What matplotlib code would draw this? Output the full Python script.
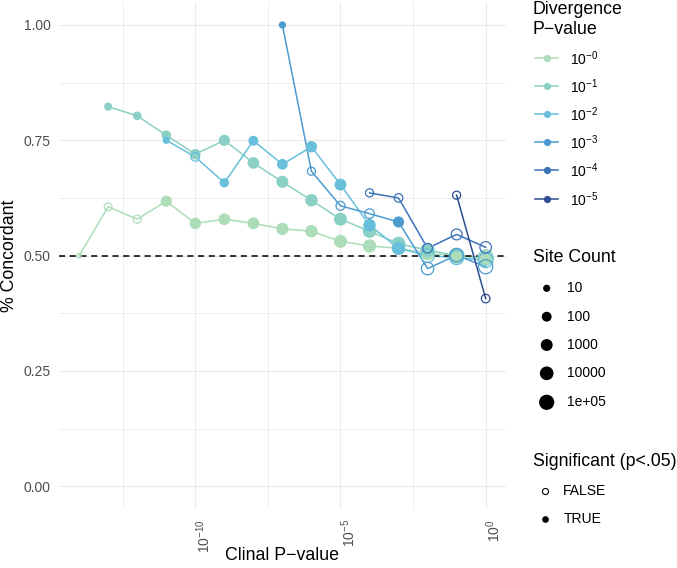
import numpy as np
import matplotlib
matplotlib.use("Agg")
import matplotlib.pyplot as plt
from matplotlib.ticker import FixedLocator, NullFormatter, LogFormatterMathtext
from matplotlib.transforms import ScaledTranslation

# ===================
# CONFIGURATION
# ===================
W, H, DPI = 677, 568, 100
PANEL = (58.8, 1.9, 506.0, 509.4)  # left, top, right, bottom in pixels
GRID_COLOR = '#ebebeb'
TEXT_GRAY = '#4d4d4d'
TICK_FS = 10
TITLE_FS = 12.8

plt.rcParams['font.family'] = ['Liberation Sans', 'DejaVu Sans']
plt.rcParams['mathtext.fontset'] = 'custom'
plt.rcParams['mathtext.rm'] = 'Liberation Sans'
plt.rcParams['mathtext.it'] = 'Liberation Sans:italic'
plt.rcParams['mathtext.bf'] = 'Liberation Sans:bold'

# ===================
# DATA
# ===================
# clinal p-value exponent (log10), % concordant, site count, significant
div_labels = ['$10^{-0}$', '$10^{-1}$', '$10^{-2}$', '$10^{-3}$', '$10^{-4}$', '$10^{-5}$']
div_colors = ['#acdcb8', '#8ad0c4', '#67bfdb', '#4c9bd0', '#3c72ba', '#2c4d8e']

d0_exp = [-14, -13, -12, -11, -10, -9, -8, -7, -6, -5, -4, -3, -2, -1, 0]
d0_conc = [0.500, 0.606, 0.579, 0.618, 0.570, 0.579, 0.570, 0.558, 0.553, 0.531, 0.521, 0.516, 0.505, 0.500, 0.495]
d0_count = [2, 15, 20, 400, 600, 800, 1000, 1500, 2000, 4000, 6000, 12000, 25000, 50000, 100000]
d0_sig = [False, False, False, True, True, True, True, True, True, True, True, True, True, True, True]

d1_exp = [-13, -12, -11, -10, -9, -8, -7, -6, -5, -4, -3, -2, -1, 0]
d1_conc = [0.823, 0.803, 0.761, 0.720, 0.750, 0.701, 0.660, 0.620, 0.579, 0.553, 0.526, 0.512, 0.500, 0.496]
d1_count = [20, 30, 80, 200, 400, 700, 1200, 2000, 4000, 8000, 15000, 30000, 50000, 80000]
d1_sig = [True, True, True, True, True, True, True, True, True, True, True, True, False, False]

d2_exp = [-11, -10, -9, -8, -7, -6, -5, -4, -3, -2, -1, 0]
d2_conc = [0.750, 0.714, 0.658, 0.749, 0.698, 0.736, 0.654, 0.566, 0.516, 0.500, 0.496, 0.490]
d2_count = [10, 30, 60, 120, 250, 500, 1000, 2000, 5000, 10000, 20000, 40000]
d2_sig = [True, False, True, True, True, True, True, True, True, False, False, False]

d3_exp = [-7, -6, -5, -4, -3, -2, -1, 0]
d3_conc = [1.000, 0.683, 0.608, 0.591, 0.573, 0.472, 0.501, 0.476]
d3_count = [10, 20, 40, 80, 400, 2000, 6000, 20000]
d3_sig = [True, False, False, False, True, False, False, False]

d4_exp = [-4, -3, -2, -1, 0]
d4_conc = [0.636, 0.625, 0.516, 0.546, 0.518]
d4_count = [20, 30, 80, 300, 600]
d4_sig = [False, False, False, False, False]

d5_exp = [-1, 0]
d5_conc = [0.631, 0.407]
d5_count = [20, 30]
d5_sig = [False, False]

series = [
    (d0_exp, d0_conc, d0_count, d0_sig),
    (d1_exp, d1_conc, d1_count, d1_sig),
    (d2_exp, d2_conc, d2_count, d2_sig),
    (d3_exp, d3_conc, d3_count, d3_sig),
    (d4_exp, d4_conc, d4_count, d4_sig),
    (d5_exp, d5_conc, d5_count, d5_sig),
]

size_breaks = [10, 100, 1000, 10000, 100000]
size_labels = ['10', '100', '1000', '10000', '1e+05']


# ===================
# HELPERS
# ===================
def count_to_s(count):
    # area grows with log10(count), diameter in px -> points^2
    lg = np.log10(np.asarray(count, dtype=float))
    d_px = np.sqrt(np.clip(52 + 45 * (lg - 1), 14, None))
    return (d_px * 72 / DPI) ** 2


def px_ax(fig):
    ax = fig.add_axes([0, 0, 1, 1], zorder=5)
    ax.set_xlim(0, W)
    ax.set_ylim(H, 0)
    ax.axis('off')
    ax.patch.set_alpha(0)
    return ax


# ===================
# PLOTTING
# ===================
def make_figure():
    fig = plt.figure(figsize=(W / DPI, H / DPI), dpi=DPI)
    l, t, r, b = PANEL
    ax = fig.add_axes([l / W, (H - b) / H, (r - l) / W, (b - t) / H])
    ax.set_facecolor('white')
    for sp in ax.spines.values():
        sp.set_visible(False)

    ax.set_xscale('log')
    ax.set_xlim(10 ** -14.7, 10 ** 0.7)
    ax.set_ylim(-0.05, 1.05)
    ax.xaxis.set_major_locator(FixedLocator([1e-10, 1e-5, 1e0]))
    ax.xaxis.set_major_formatter(LogFormatterMathtext())
    ax.xaxis.set_minor_locator(FixedLocator([10 ** -12.5, 10 ** -7.5, 10 ** -2.5]))
    ax.xaxis.set_minor_formatter(NullFormatter())
    ax.set_yticks([0, 0.25, 0.5, 0.75, 1.0])
    ax.set_yticklabels(['0.00', '0.25', '0.50', '0.75', '1.00'])
    ax.set_yticks([0.125, 0.375, 0.625, 0.875], minor=True)

    ax.tick_params(which='both', length=0)
    ax.tick_params(axis='y', labelsize=TICK_FS, labelcolor=TEXT_GRAY, pad=6)
    ax.tick_params(axis='x', labelsize=TICK_FS, labelcolor=TEXT_GRAY, pad=7, labelrotation=90)
    ax.grid(which='major', color=GRID_COLOR, lw=0.8)
    ax.grid(which='minor', color=GRID_COLOR, lw=0.6)
    ax.set_axisbelow(True)

    shift = ScaledTranslation(8 / DPI, 0, fig.dpi_scale_trans)
    for lab in ax.get_xticklabels():
        lab.set_transform(lab.get_transform() + shift)

    # lines first, then points (as ggplot layers)
    for (ex, conc, cnt, sig), col in zip(series, div_colors):
        ax.plot(10.0 ** np.array(ex), conc, color=col, lw=1.1, zorder=2)

    ax.axhline(0.5, color='black', lw=1.1, ls=(0, (4, 3)), zorder=2.5)

    for (ex, conc, cnt, sig), col in zip(series, div_colors):
        x = 10.0 ** np.array(ex)
        y = np.array(conc)
        s = count_to_s(cnt)
        sig = np.array(sig)
        ax.scatter(x[sig], y[sig], s=s[sig], color=col, edgecolors='none', zorder=3)
        ax.scatter(x[~sig], y[~sig], s=s[~sig], facecolors='none', edgecolors=col,
                   linewidths=0.9, zorder=3)

    # axis titles
    fig.text(((l + r) / 2) / W, 1 - 556 / H, 'Clinal P\u2212value', ha='center', va='center', fontsize=TITLE_FS)
    fig.text(10 / W, 1 - ((t + b) / 2) / H, '% Concordant', ha='center', va='center',
             rotation=90, fontsize=TITLE_FS)

    # ===================
    # LEGENDS
    # ===================
    lg = px_ax(fig)
    lg.text(533, 9, 'Divergence', ha='left', va='center', fontsize=TITLE_FS)
    lg.text(533, 29, 'P\u2212value', ha='left', va='center', fontsize=TITLE_FS)
    ys = [57.7, 85.7, 113.7, 141.7, 170, 199]
    for yy, col, lab in zip(ys, div_colors, div_labels):
        lg.plot([535, 558], [yy, yy], color=col, lw=1.1)
        lg.plot([546.5], [yy], 'o', color=col, ms=5.2, mec='none')
        lg.text(570, yy + 1, lab, ha='left', va='center', fontsize=TICK_FS)

    lg.text(533, 258, 'Site Count', ha='left', va='center', fontsize=TITLE_FS)
    ys = [288.3, 316.7, 345, 373.3, 402.3]
    for yy, cnt, lab in zip(ys, size_breaks, size_labels):
        lg.scatter([546.7], [yy], s=count_to_s(cnt), color='black', edgecolors='none')
        lg.text(566.7, yy, lab, ha='left', va='center', fontsize=TICK_FS)

    lg.text(533, 461.7, 'Significant (p<.05)', ha='left', va='center', fontsize=TITLE_FS)
    lg.plot([545], [490.7], 'o', mfc='none', mec='black', ms=4.4, mew=0.8)
    lg.text(563.3, 490.7, 'FALSE', ha='left', va='center', fontsize=TICK_FS)
    lg.plot([545], [519.3], 'o', color='black', ms=4.8, mec='none')
    lg.text(563.3, 519.3, 'TRUE', ha='left', va='center', fontsize=TICK_FS)

    return fig


# ===================
# MAIN
# ===================
def main():
    fig = make_figure()
    fig.savefig('out.png', dpi=DPI)
    plt.close(fig)


if __name__ == "__main__":
    main()
